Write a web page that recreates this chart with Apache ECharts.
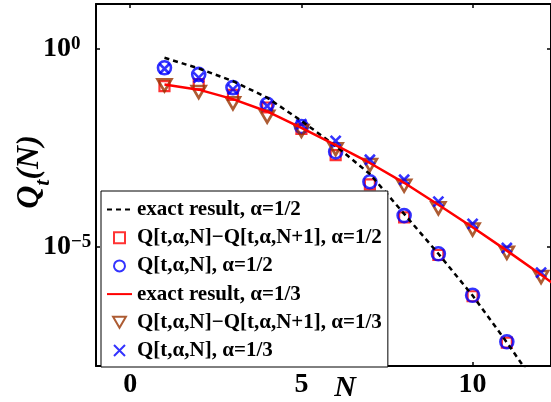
<!DOCTYPE html>
<html><head><meta charset="utf-8">
<script src="https://cdn.jsdelivr.net/npm/echarts@6/dist/echarts.min.js"></script>
<style>html,body{margin:0;padding:0;background:#fff}#c{width:551px;height:402px}</style>
</head><body><div id="c"></div><script>
// tick positions
const xTicks = [0, 5, 10];
const yTickExponents = [-5, 0];
// alpha = 1/2
const nExactHalf = [1,2,3,4,5,6,7,8,9,10,11,12];
const exactHalf = [0.594,0.320,0.153,0.0587,0.0152,3.57e-3,6.95e-4,6.87e-5,6.79e-6,5.97e-7,3.94e-8,2.24e-9];
const nHalf = [1,2,3,4,5,6,7,8,9,10,11];
const diffHalf = [0.115,0.129,0.0692,0.0331,9.55e-3,2.09e-3,3.80e-4,5.62e-5,6.31e-6,5.75e-7,3.89e-8];
const qHalf = [0.333,0.226,0.105,0.0399,0.0110,2.52e-3,4.45e-4,6.22e-5,6.79e-6,6.08e-7,4.10e-8];
// alpha = 1/3
const nExactThird = [1,2,3,4,5,6,7,8,9,10,11,12,13];
const exactThird = [0.126,0.0933,0.0537,0.0263,0.0102,3.72e-3,1.32e-3,4.17e-4,1.17e-4,3.16e-5,8.13e-6,2.00e-6,4.68e-7];
const nThird = [1,2,3,4,5,6,7,8,9,10,11,12];
const diffThird = [0.120,0.0813,0.0423,0.0195,8.51e-3,2.95e-3,1.17e-3,3.53e-4,9.55e-5,2.77e-5,7.19e-6,1.76e-6];
const qThird = [0.314,0.187,0.0948,0.0361,0.0125,4.76e-3,1.59e-3,4.99e-4,1.40e-4,3.85e-5,9.44e-6,2.26e-6];

const names = [
  'exact result, \u03b1=1/2',
  'Q[t,\u03b1,N]\u2212Q[t,\u03b1,N+1], \u03b1=1/2',
  'Q[t,\u03b1,N], \u03b1=1/2',
  'exact result, \u03b1=1/3',
  'Q[t,\u03b1,N]\u2212Q[t,\u03b1,N+1], \u03b1=1/3',
  'Q[t,\u03b1,N], \u03b1=1/3'
];
const pts = (ns, vs) => ns.map((n, i) => [n, Math.log10(vs[i])]);
const FONT = '"Liberation Serif", "Times New Roman", serif';
const BROWN = '#993300';
const SQUARE = 'path://M0,0L10,0L10,10L0,10Z';
const TRI_DOWN = 'path://M0,0L14,0L7,12Z';
const CROSS = 'path://M0,0L10,10M0,10L10,0';

const axisCommon = {
  type: 'value', splitLine: {show: false},
  axisLine: {show: true, onZero: false, lineStyle: {color: '#000', width: 2}},
};
const chart = echarts.init(document.getElementById('c'));
chart.setOption({
  animation: false,
  backgroundColor: '#fff',
  grid: {left: 96, top: 4, right: -1, bottom: 36, containLabel: false},
  xAxis: [
    Object.assign({}, axisCommon, {position: 'bottom', min: -1, max: 12.29,
      axisTick: {show: true, inside: true, length: 4, customValues: xTicks, lineStyle: {color: '#000', width: 1.5}},
      axisLabel: {show: true, customValues: xTicks, margin: 5, color: '#000', fontSize: 28, fontWeight: 'bold', fontFamily: FONT}}),
    Object.assign({}, axisCommon, {position: 'top', min: -1, max: 12.29,
      axisTick: {show: true, inside: true, length: 4, customValues: xTicks, lineStyle: {color: '#000', width: 1.5}},
      axisLabel: {show: false}})
  ],
  yAxis: [
    Object.assign({}, axisCommon, {position: 'left', min: -8, max: 1.13,
      axisTick: {show: true, inside: true, length: 4, customValues: yTickExponents, lineStyle: {color: '#000', width: 1.5}},
      axisLabel: {show: true, customValues: yTickExponents, align: 'left', margin: 53,
        formatter: v => '{b|10}{s|' + (v < 0 ? '\u2212' + Math.abs(v) : v) + '}',
        rich: {
          b: {fontSize: 28, fontWeight: 'bold', fontFamily: FONT, color: '#000', lineHeight: 28, padding: [8, 0, 0, 0], verticalAlign: 'bottom'},
          s: {fontSize: 19, fontWeight: 'bold', fontFamily: FONT, color: '#000', lineHeight: 19, verticalAlign: 'top'}
        }}}),
    Object.assign({}, axisCommon, {position: 'right', min: -8, max: 1.13,
      axisTick: {show: true, inside: true, length: 4, customValues: yTickExponents, lineStyle: {color: '#000', width: 1.5}},
      axisLabel: {show: false}})
  ],
  legend: {
    orient: 'vertical', left: 101, top: 191, padding: [8, 6, 6, 5],
    itemGap: 7.2, itemWidth: 25, itemHeight: 11,
    symbolKeepAspect: true,
    backgroundColor: '#fff', borderColor: '#000', borderWidth: 1, borderRadius: 0,
    selectedMode: false,
    itemStyle: {borderWidth: 2},
    textStyle: {color: '#000', fontSize: 21, fontWeight: 'bold', fontFamily: FONT, lineHeight: 21},
    data: [
      {name: names[0]},
      {name: names[1], icon: SQUARE},
      {name: names[2], icon: 'circle'},
      {name: names[3]},
      {name: names[4], icon: TRI_DOWN},
      {name: names[5], icon: CROSS}
    ]
  },
  graphic: [
    {type: 'text', x: 30, y: 172, rotation: Math.PI / 2, z: 10,
      style: {text: '{q|Q}{t|t}{q|(N)}', align: 'center', verticalAlign: 'middle',
        rich: {
          q: {fontSize: 32, fontStyle: 'italic', fontWeight: 'bold', fontFamily: FONT, fill: '#000', lineHeight: 32, verticalAlign: 'top'},
          t: {fontSize: 22, fontStyle: 'italic', fontWeight: 'bold', fontFamily: FONT, fill: '#000', lineHeight: 22, padding: [18, 0, 0, 0], verticalAlign: 'top'}
        }}},
    {type: 'text', x: 345, y: 388, z: 10,
      style: {text: 'N', align: 'center', verticalAlign: 'middle', fontSize: 30, fontStyle: 'italic', fontWeight: 'bold', fontFamily: FONT, fill: '#000'}}
  ],
  series: [
    {name: names[0], type: 'line', data: pts(nExactHalf, exactHalf), symbol: 'none', clip: true,
      lineStyle: {color: '#000', width: 2.5, type: [5, 4]}, itemStyle: {color: 'rgba(0,0,0,0)', borderWidth: 0}},
    {name: names[1], type: 'scatter', data: pts(nHalf, diffHalf), symbol: SQUARE, symbolSize: 10,
      itemStyle: {color: 'rgba(0,0,0,0)', borderColor: '#ff0000', borderWidth: 2.2}},
    {name: names[2], type: 'scatter', data: pts(nHalf, qHalf), symbol: 'circle', symbolSize: 13,
      itemStyle: {color: 'rgba(0,0,0,0)', borderColor: '#0000ff', borderWidth: 2.6}},
    {name: names[3], type: 'line', data: pts(nExactThird, exactThird), symbol: 'none', clip: true,
      lineStyle: {color: '#ff0000', width: 2.5}, itemStyle: {color: 'rgba(0,0,0,0)', borderWidth: 0}},
    {name: names[4], type: 'scatter', data: pts(nThird, diffThird), symbol: TRI_DOWN, symbolSize: [14, 12],
      itemStyle: {color: 'rgba(0,0,0,0)', borderColor: BROWN, borderWidth: 2.6}},
    {name: names[5], type: 'scatter', data: pts(nThird, qThird), symbol: CROSS, symbolSize: 10,
      itemStyle: {color: 'rgba(0,0,0,0)', borderColor: '#0000ff', borderWidth: 2.6}}
  ]
});
</script></body></html>
